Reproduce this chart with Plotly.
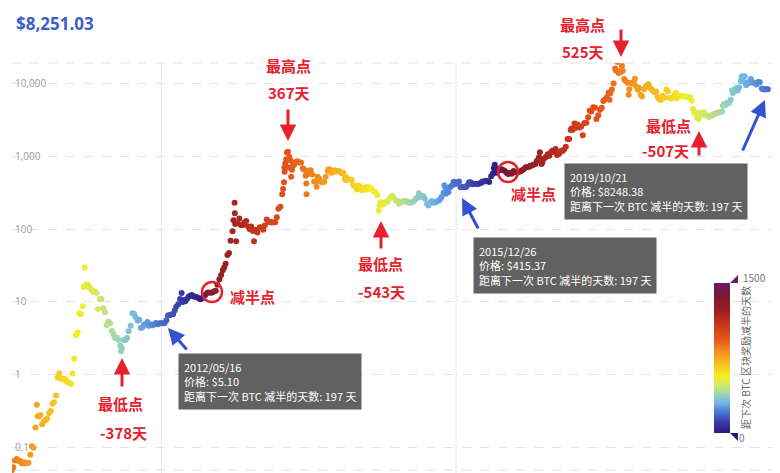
import pandas as pd
import plotly.graph_objects as go

# ---------------- data ----------------
dates_2010 = ["2010-07-17","2010-07-24","2010-07-31","2010-08-08","2010-08-15","2010-08-22","2010-08-31",
              "2010-09-08","2010-09-15","2010-09-22","2010-09-30","2010-10-08","2010-10-15","2010-10-22",
              "2010-10-31","2010-11-06","2010-11-10","2010-11-15","2010-11-22","2010-11-30","2010-12-08",
              "2010-12-15","2010-12-22","2010-12-31"]
prices_2010 = [0.049,0.054,0.067,0.070,0.066,0.066,0.061,0.063,0.061,0.062,0.062,0.080,0.105,0.100,
               0.19,0.39,0.27,0.27,0.28,0.21,0.23,0.24,0.25,0.30]

dates_2011 = ["2011-01-08","2011-01-15","2011-01-22","2011-01-31","2011-02-08","2011-02-15","2011-02-22",
              "2011-02-28","2011-03-08","2011-03-15","2011-03-22","2011-03-31","2011-04-08","2011-04-15",
              "2011-04-22","2011-04-30","2011-05-08","2011-05-15","2011-05-22","2011-05-31","2011-06-04",
              "2011-06-08","2011-06-12","2011-06-19","2011-06-26","2011-07-03","2011-07-10","2011-07-17",
              "2011-07-24","2011-07-31","2011-08-07","2011-08-15","2011-08-22","2011-08-31","2011-09-07",
              "2011-09-15","2011-09-22","2011-09-30","2011-10-08","2011-10-15","2011-10-22","2011-10-31",
              "2011-11-08","2011-11-15","2011-11-18","2011-11-22","2011-11-30","2011-12-08","2011-12-15",
              "2011-12-22","2011-12-31"]
prices_2011 = [0.32,0.40,0.42,0.52,0.92,1.05,0.90,0.86,0.88,0.86,0.80,0.78,0.75,1.04,1.66,3.5,3.8,7.0,
               6.8,8.7,16.0,29.6,17.0,17.5,16.5,15.4,14.6,13.7,13.9,13.4,8.0,11.0,11.0,8.2,7.2,4.8,5.4,
               5.1,4.0,3.6,3.2,3.25,3.0,2.5,2.1,2.3,3.0,3.0,3.2,3.95,4.7]

dates_2012 = ["2012-01-08","2012-01-15","2012-01-22","2012-01-31","2012-02-08","2012-02-15","2012-02-22",
              "2012-02-29","2012-03-08","2012-03-15","2012-03-22","2012-03-31","2012-04-08","2012-04-15",
              "2012-04-22","2012-04-30","2012-05-08","2012-05-16","2012-05-22","2012-05-31","2012-06-08",
              "2012-06-15","2012-06-22","2012-06-30","2012-07-08","2012-07-15","2012-07-22","2012-07-31",
              "2012-08-08","2012-08-15","2012-08-19","2012-08-24","2012-08-31","2012-09-08","2012-09-15",
              "2012-09-22","2012-09-30","2012-10-08","2012-10-15","2012-10-22","2012-10-31","2012-11-08",
              "2012-11-15","2012-11-22","2012-11-28","2012-12-08","2012-12-15","2012-12-22","2012-12-31"]
prices_2012 = [7.0,6.9,6.2,5.5,5.7,4.4,4.5,4.9,4.9,5.3,4.7,4.9,4.8,4.95,5.15,4.95,5.1,5.10,5.1,5.15,
               5.6,6.5,6.6,6.7,6.8,7.6,8.6,9.3,11.0,13.3,10.0,10.6,10.2,11.0,11.8,12.2,12.4,11.9,11.8,
               11.6,11.2,10.9,11.2,12.0,12.4,13.4,13.5,13.4,13.5]

dates_2013 = ["2013-01-08","2013-01-15","2013-01-22","2013-01-31","2013-02-08","2013-02-15","2013-02-22",
              "2013-02-28","2013-03-08","2013-03-15","2013-03-22","2013-03-31","2013-04-04","2013-04-09",
              "2013-04-10","2013-04-12","2013-04-16","2013-04-22","2013-04-30","2013-05-08","2013-05-15",
              "2013-05-22","2013-05-31","2013-06-08","2013-06-15","2013-06-22","2013-06-30","2013-07-05",
              "2013-07-12","2013-07-20","2013-07-31","2013-08-08","2013-08-15","2013-08-22","2013-08-31",
              "2013-09-08","2013-09-15","2013-09-22","2013-09-30","2013-10-08","2013-10-15","2013-10-22",
              "2013-10-31","2013-11-08","2013-11-12","2013-11-16","2013-11-18","2013-11-19","2013-11-22",
              "2013-11-26","2013-11-29","2013-12-04","2013-12-07","2013-12-10","2013-12-15","2013-12-18",
              "2013-12-22","2013-12-26","2013-12-31"]
prices_2013 = [14.0,14.2,17.2,20.4,23.5,27.1,30.0,33.4,44.0,47.0,69.0,93.0,132,230,165,117,68,120,139,
               113,114,123,129,108,100,108,94,68,98,90,106,105,98,112,135,125,126,123,124,124,145,190,
               203,300,355,440,700,610,800,900,1120,1150,700,970,870,520,650,740,760]

dates_2014 = ["2014-01-08","2014-01-15","2014-01-22","2014-01-31","2014-02-08","2014-02-15","2014-02-21",
              "2014-02-24","2014-02-25","2014-02-28","2014-03-08","2014-03-15","2014-03-22","2014-03-31",
              "2014-04-08","2014-04-11","2014-04-15","2014-04-22","2014-04-30","2014-05-08","2014-05-15",
              "2014-05-22","2014-05-31","2014-06-04","2014-06-08","2014-06-15","2014-06-22","2014-06-30",
              "2014-07-08","2014-07-15","2014-07-22","2014-07-31","2014-08-08","2014-08-15","2014-08-18",
              "2014-08-22","2014-08-31","2014-09-08","2014-09-15","2014-09-22","2014-09-30","2014-10-08",
              "2014-10-15","2014-10-22","2014-10-31","2014-11-08","2014-11-15","2014-11-22","2014-11-30",
              "2014-12-08","2014-12-15","2014-12-22","2014-12-31"]
prices_2014 = [830,850,820,820,680,650,540,420,300,570,630,640,560,450,450,380,520,490,447,440,445,520,
               625,660,655,590,600,640,620,620,620,586,590,500,470,515,480,475,475,400,386,350,395,380,
               340,345,375,350,378,365,345,330,320]

dates_2015 = ["2015-01-08","2015-01-14","2015-01-18","2015-01-22","2015-01-31","2015-02-08","2015-02-15",
              "2015-02-22","2015-02-28","2015-03-08","2015-03-15","2015-03-22","2015-03-31","2015-04-08",
              "2015-04-15","2015-04-22","2015-04-30","2015-05-08","2015-05-15","2015-05-22","2015-05-31",
              "2015-06-08","2015-06-15","2015-06-22","2015-06-30","2015-07-08","2015-07-12","2015-07-15",
              "2015-07-22","2015-07-31","2015-08-08","2015-08-18","2015-08-24","2015-08-31","2015-09-08",
              "2015-09-15","2015-09-22","2015-09-30","2015-10-08","2015-10-15","2015-10-22","2015-10-31",
              "2015-11-04","2015-11-08","2015-11-11","2015-11-15","2015-11-22","2015-11-30","2015-12-08",
              "2015-12-15","2015-12-22","2015-12-26","2015-12-31"]
prices_2015 = [290,178,210,233,217,223,235,236,254,275,286,268,244,245,222,235,236,244,237,240,230,229,
               236,245,264,270,310,287,277,284,262,223,210,230,243,230,231,236,244,255,276,314,400,373,
               305,320,323,378,395,445,437,415,430]

dates_2016 = ["2016-01-08","2016-01-15","2016-01-22","2016-01-31","2016-02-08","2016-02-15","2016-02-22",
              "2016-02-29","2016-03-08","2016-03-15","2016-03-22","2016-03-31","2016-04-08","2016-04-15",
              "2016-04-22","2016-04-30","2016-05-08","2016-05-15","2016-05-22","2016-05-31","2016-06-08",
              "2016-06-12","2016-06-16","2016-06-22","2016-06-30","2016-07-08","2016-07-15","2016-07-22",
              "2016-07-31","2016-08-08","2016-08-15","2016-08-22","2016-08-31","2016-09-08","2016-09-15",
              "2016-09-22","2016-09-30","2016-10-08","2016-10-15","2016-10-22","2016-10-31","2016-11-08",
              "2016-11-15","2016-11-22","2016-11-30","2016-12-08","2016-12-15","2016-12-22","2016-12-31"]
prices_2016 = [450,375,380,378,376,400,438,437,412,415,418,416,420,429,450,448,458,457,441,531,580,680,
               765,590,673,640,663,650,624,591,567,586,573,627,607,596,608,618,638,657,700,709,712,738,
               742,768,779,864,963]

dates_2017 = ["2017-01-04","2017-01-11","2017-01-15","2017-01-22","2017-01-31","2017-02-08","2017-02-15",
              "2017-02-22","2017-02-28","2017-03-08","2017-03-15","2017-03-22","2017-03-31","2017-04-08",
              "2017-04-15","2017-04-22","2017-04-30","2017-05-08","2017-05-15","2017-05-22","2017-05-25",
              "2017-05-31","2017-06-08","2017-06-12","2017-06-15","2017-06-22","2017-06-30","2017-07-08",
              "2017-07-15","2017-07-22","2017-07-31","2017-08-08","2017-08-15","2017-08-22","2017-08-31",
              "2017-09-08","2017-09-14","2017-09-22","2017-09-30","2017-10-08","2017-10-15","2017-10-22",
              "2017-10-31","2017-11-08","2017-11-12","2017-11-15","2017-11-22","2017-11-30","2017-12-07",
              "2017-12-10","2017-12-17","2017-12-22","2017-12-28","2017-12-31"]
prices_2017 = [1130,780,820,920,970,1060,1010,1120,1190,1150,1250,1040,1080,1180,1180,1230,1350,1720,
               1720,2280,2400,2300,2800,2600,2450,2710,2480,2560,1930,2840,2880,3420,4200,4090,4700,
               4600,3230,3630,4340,4600,5700,6000,6470,7460,5950,7320,8230,9950,16000,15000,19500,
               13800,14600,14150]

dates_2018 = ["2018-01-06","2018-01-10","2018-01-16","2018-01-22","2018-01-31","2018-02-05","2018-02-08",
              "2018-02-15","2018-02-22","2018-02-28","2018-03-05","2018-03-10","2018-03-18","2018-03-22",
              "2018-03-31","2018-04-06","2018-04-15","2018-04-22","2018-04-30","2018-05-05","2018-05-15",
              "2018-05-22","2018-05-31","2018-06-08","2018-06-15","2018-06-22","2018-06-29","2018-07-08",
              "2018-07-15","2018-07-24","2018-07-31","2018-08-08","2018-08-14","2018-08-22","2018-08-31",
              "2018-09-05","2018-09-08","2018-09-15","2018-09-22","2018-09-30","2018-10-08","2018-10-15",
              "2018-10-22","2018-10-31","2018-11-08","2018-11-14","2018-11-20","2018-11-25","2018-11-30",
              "2018-12-07","2018-12-15","2018-12-22","2018-12-31"]
prices_2018 = [17200,14900,11400,10800,10200,6950,8300,10100,9900,10300,11500,9100,8200,8700,6930,6600,
               8300,8900,9250,9700,8500,8000,7500,7700,6500,6050,5900,6750,6350,8200,7730,6300,6200,
               6400,7030,7350,6250,6500,6700,6625,6650,6600,6580,6370,6450,5750,4450,3900,4000,3400,
               3240,3950,3740]

dates_2019 = ["2019-01-08","2019-01-15","2019-01-22","2019-01-31","2019-02-08","2019-02-15","2019-02-24",
              "2019-02-28","2019-03-08","2019-03-15","2019-03-22","2019-03-31","2019-04-03","2019-04-08",
              "2019-04-15","2019-04-22","2019-04-30","2019-05-08","2019-05-14","2019-05-17","2019-05-22",
              "2019-05-31","2019-06-08","2019-06-15","2019-06-22","2019-06-26","2019-06-28","2019-07-02",
              "2019-07-09","2019-07-16","2019-07-22","2019-07-31","2019-08-06","2019-08-15","2019-08-22",
              "2019-08-31","2019-09-08","2019-09-15","2019-09-24","2019-09-30","2019-10-08","2019-10-15",
              "2019-10-21"]
prices_2019 = [4000,3600,3600,3450,3650,3600,3830,3850,3900,4000,4000,4100,4900,5200,5050,5400,5350,
               5950,8000,7350,7650,8550,7950,8850,10700,12400,12400,10600,12500,9400,10300,10100,
               11400,10300,10100,9600,10400,10300,8500,8300,8200,8350,8248.38]

halving_dates = ["2012-11-29", "2016-07-10", "2020-05-05"]
tip_dates = ["2012-05-16", "2015-12-26", "2019-10-21"]
tip_prices = ["5.10", "415.37", "8248.38"]
title_price = "$8,251.03"
y_tick_vals = [0.1, 1, 10, 100, 1000, 10000]
y_tick_text = ["0.1", "1", "10", "100", "1,000", "10,000"]
color_min, color_max = 0, 1500

dates = pd.to_datetime(dates_2010 + dates_2011 + dates_2012 + dates_2013 + dates_2014 +
                       dates_2015 + dates_2016 + dates_2017 + dates_2018 + dates_2019)
prices = (prices_2010 + prices_2011 + prices_2012 + prices_2013 + prices_2014 +
          prices_2015 + prices_2016 + prices_2017 + prices_2018 + prices_2019)

halvings = pd.to_datetime(halving_dates)


def days_to_halving(d):
    for h in halvings:
        if h >= d:
            return (h - d).days
    return 0


days = [days_to_halving(d) for d in dates]
tip_days = [days_to_halving(pd.Timestamp(d)) for d in tip_dates]

# ---------------- layout geometry (pixels) ----------------
W_FIG, H_FIG = 780, 473
L, R, T, B = 12, 772, 63, 473
PW, PH = R - L, B - T


def px(x):
    return (x - L) / PW


def py(y):
    return 1 - (y - T) / PH


# x range: date scale of ~0.2235 px/day anchored on the 2013 peak
anchor = pd.Timestamp("2013-12-04")
scale = 0.2235
x_left = anchor + pd.Timedelta(days=(L - 288) / scale)
x_right = anchor + pd.Timedelta(days=(R - 288) / scale)

colorscale = [
    [0.00, "#2b1b7a"], [0.07, "#3a3aa8"], [0.14, "#4a78d0"], [0.20, "#72b4e6"],
    [0.26, "#9cd6b4"], [0.32, "#d4ea60"], [0.38, "#f5ee22"], [0.46, "#f6c020"],
    [0.54, "#f29020"], [0.62, "#e85a1c"], [0.72, "#c8361e"], [0.82, "#9a2020"],
    [0.91, "#7a1a30"], [1.00, "#6a1a6e"],
]

fig = go.Figure()
fig.add_trace(go.Scatter(
    x=dates, y=prices, mode="markers",
    marker=dict(size=6, color=days, cmin=color_min, cmax=color_max, colorscale=colorscale,
                line=dict(width=0),
                colorbar=dict(x=px(714), xanchor="left", y=py(283), yanchor="top",
                              len=150, lenmode="pixels", thickness=16, xpad=0, ypad=0,
                              outlinewidth=0, showticklabels=False, ticks="")),
    hoverinfo="skip", showlegend=False,
))

RED = "#e5212d"
BLUE = "#3352cf"
FONT_CJK = "Noto Sans CJK SC"

shapes = []
# hover crosshair lines at tooltip dates
for d in tip_dates[:2]:
    shapes.append(dict(type="line", xref="x", yref="paper", x0=d, x1=d, y0=0, y1=1,
                       line=dict(color="#e6e6e6", width=1), layer="below"))
# top & bottom dashed frame lines
for yy in (63, 470):
    shapes.append(dict(type="line", xref="paper", yref="paper", x0=0, x1=1, y0=py(yy), y1=py(yy),
                       line=dict(color="#e2e2e2", width=1, dash="dash"), layer="below"))
# halving circles
for cx, cy in [(212, 292), (508, 172)]:
    r = 10
    shapes.append(dict(type="circle", xref="paper", yref="paper",
                       x0=px(cx - r), x1=px(cx + r), y0=py(cy + r), y1=py(cy - r),
                       line=dict(color=RED, width=2.5)))
# colorbar handles
shapes.append(dict(type="path", xref="paper", yref="paper",
                   path=f"M {px(730)} {py(283)} L {px(738)} {py(275)} L {px(738)} {py(283)} Z",
                   fillcolor="#6a1a6e", line=dict(width=0)))
shapes.append(dict(type="path", xref="paper", yref="paper",
                   path=f"M {px(730)} {py(433)} L {px(738)} {py(433)} L {px(738)} {py(441)} Z",
                   fillcolor="#2b1b7a", line=dict(width=0)))

ann = []


def text(x, y, s, size=15, color=RED, bold=True, **kw):
    ann.append(dict(xref="paper", yref="paper", x=px(x), y=py(y), text=f"<b>{s}</b>" if bold else s,
                    xanchor="center", yanchor="middle",
                    showarrow=False, font=dict(family=FONT_CJK, size=size, color=color), **kw))


def arrow(tip, tail, color):
    ann.append(dict(xref="paper", yref="paper", x=px(tip[0]), y=py(tip[1]), text="",
                    showarrow=True, arrowhead=2, arrowsize=1.1, arrowwidth=3, arrowcolor=color,
                    ax=tail[0] - tip[0], ay=tail[1] - tip[1], standoff=0))


# title
ann.append(dict(xref="paper", yref="paper", x=px(14), y=py(24), xanchor="left", yanchor="middle",
                text=f"<b>{title_price}</b>", showarrow=False,
                font=dict(family="Open Sans", size=17, color="#3d5fc8")))

# red labels
text(120, 403, "最低点"); text(123, 432, "-378天")
text(252, 296, "减半点")
text(288, 65, "最高点"); text(289, 93, "367天")
text(380, 263, "最低点"); text(381, 291, "-543天")
text(533, 193, "减半点")
text(582, 25, "最高点"); text(583, 52, "525天")
text(668, 125, "最低点"); text(665, 150, "-507天")

# red arrows
arrow((122, 358), (122, 388), RED)
arrow((288, 141), (288, 108), RED)
arrow((381, 221), (381, 250), RED)
arrow((621, 57), (621, 28), RED)
arrow((699, 131), (699, 157), RED)
# blue arrows
arrow((168, 328), (188, 351), BLUE)
arrow((462, 198), (479, 230), BLUE)
arrow((765, 100), (742, 152), BLUE)

# tooltips
tip_boxes = [(178, 353), (473, 237), (564, 163)]
for (bx, by), d, p, n in zip(tip_boxes, tip_dates, tip_prices, tip_days):
    ann.append(dict(xref="paper", yref="paper", x=px(bx), y=py(by), xanchor="left", yanchor="top",
                    text=f"{d.replace('-', '/')}<br>价格: ${p}<br>距离下一次 BTC 减半的天数: {n} 天",
                    showarrow=False, align="left", bgcolor="rgba(85,85,85,0.93)", borderpad=5,
                    font=dict(family=FONT_CJK, size=11, color="white")))

# colorbar labels
text(754, 277, "1500", size=10, color="#777", bold=False)
text(742, 437, "0", size=10, color="#777", bold=False)
text(745, 358, "距下次 BTC 区块奖励减半的天数", size=10, color="#666", bold=False, textangle=-90)

fig.update_layout(
    width=W_FIG, height=H_FIG,
    margin=dict(l=L, r=W_FIG - R, t=T, b=H_FIG - B, pad=0, autoexpand=False),
    paper_bgcolor="white", plot_bgcolor="white",
    xaxis=dict(type="date", range=[x_left, x_right], visible=False, fixedrange=True),
    yaxis=dict(type="log", range=[-1.347, 4.278], tickvals=y_tick_vals, ticktext=y_tick_text,
               ticklabelposition="inside", ticks="", showline=False, zeroline=False,
               gridcolor="#e4e4e4", griddash="dash", gridwidth=1,
               tickfont=dict(family="Open Sans", size=10, color="#9a9a9a")),
    shapes=shapes, annotations=ann,
)

fig.write_html("out.html", config={"displayModeBar": False},
               post_script="document.body.style.margin='0';document.body.style.overflow='hidden';")
